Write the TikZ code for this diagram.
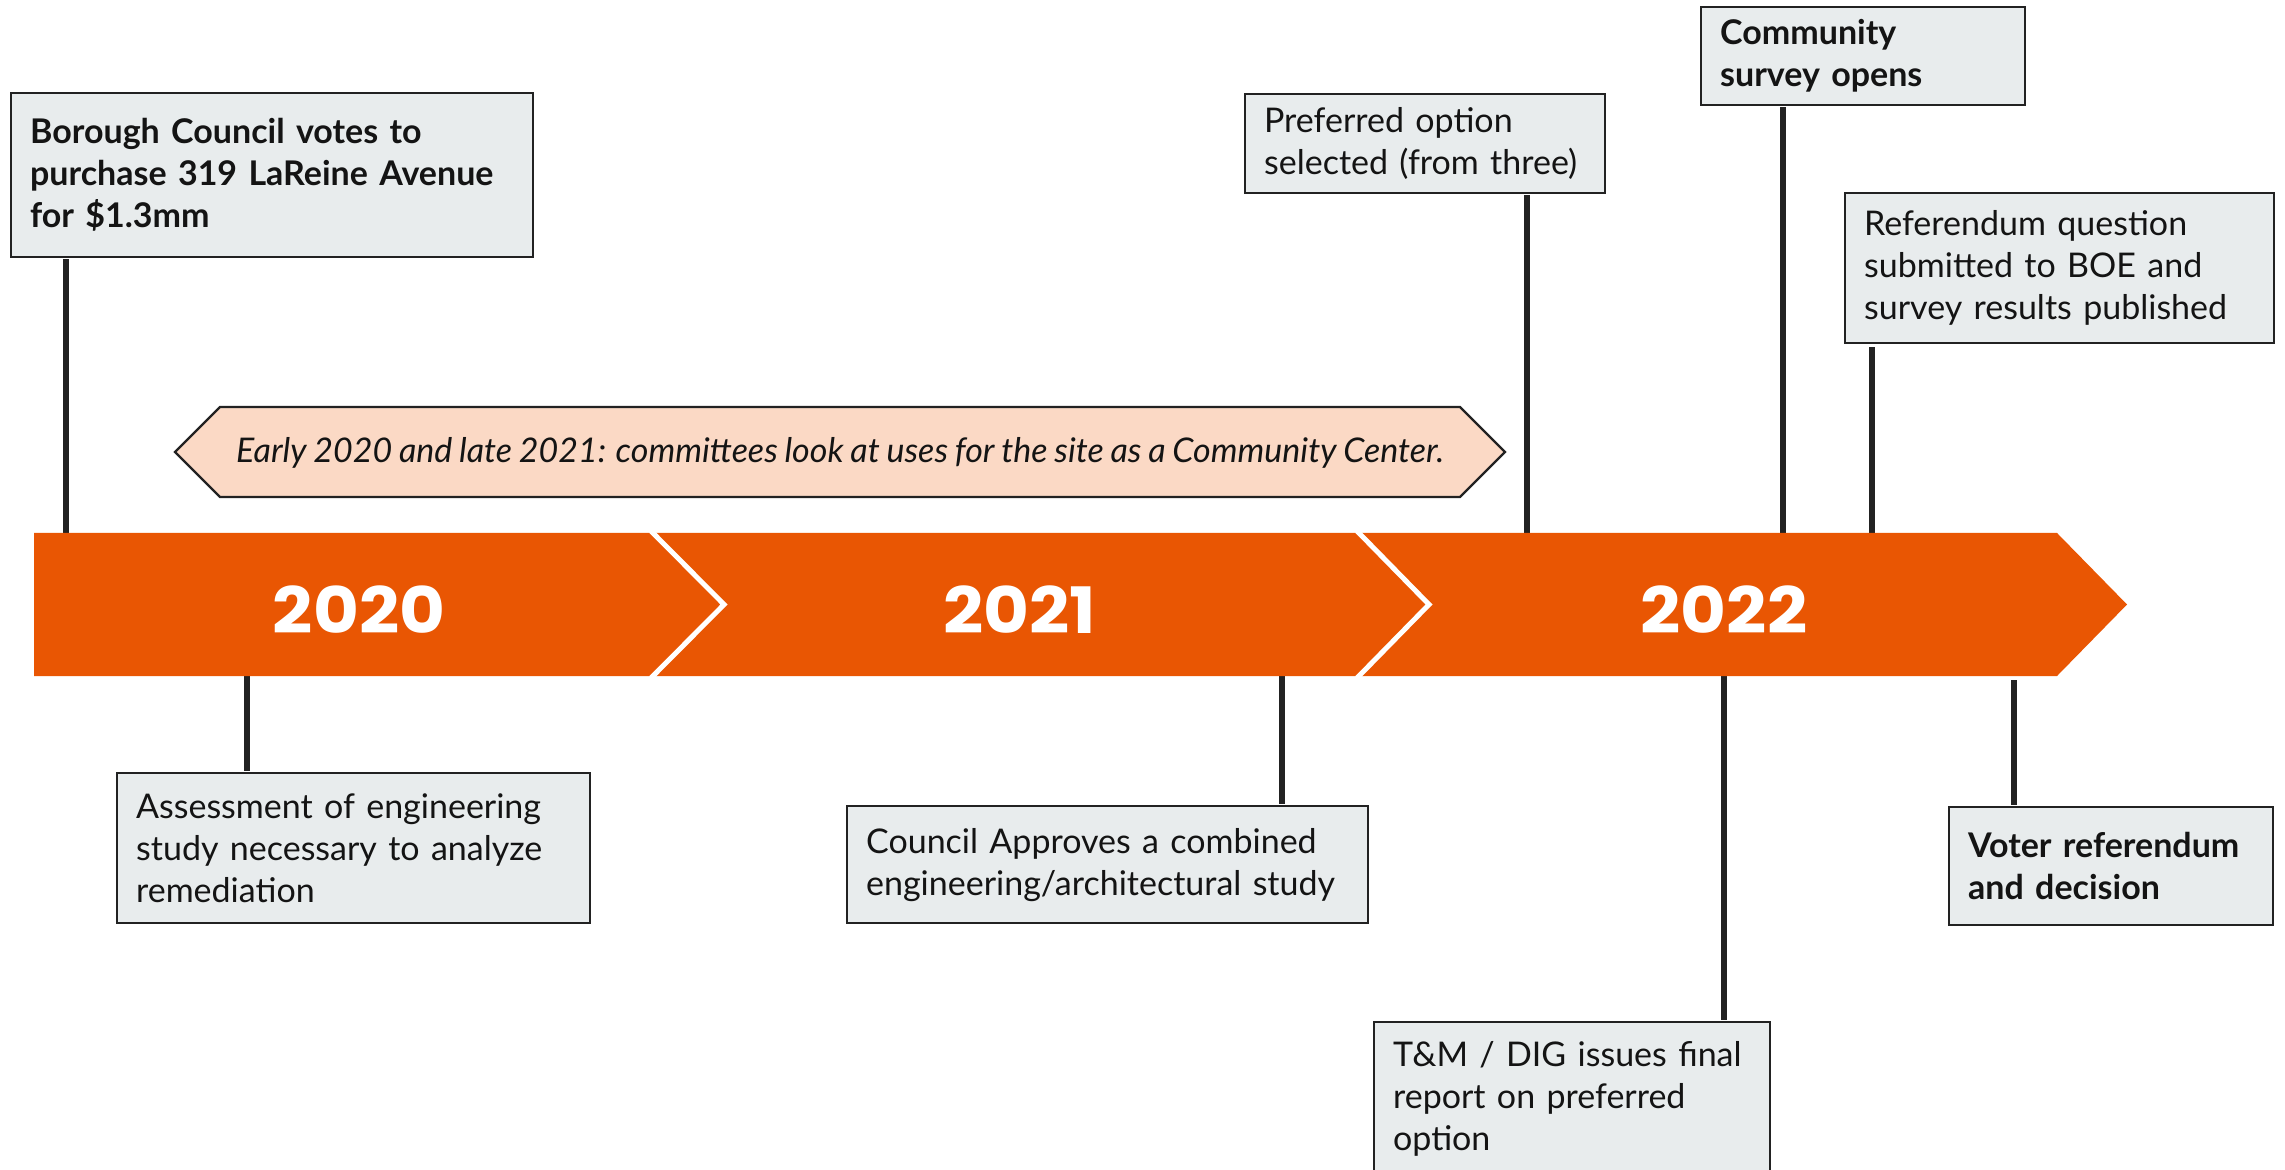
\documentclass[tikz,border=0pt]{standalone}
\usepackage{fontspec}
\setmainfont{Lato}[WordSpace=0.85]
\newfontfamily\yearfont{Poppins}[FakeStretch=1.1]
\definecolor{barorange}{RGB}{233,86,3}
\definecolor{peach}{RGB}{251,217,197}
\definecolor{boxfill}{RGB}{232,236,237}
\definecolor{linec}{RGB}{34,34,34}
\definecolor{textc}{RGB}{20,20,20}
\newcommand{\bxfont}{\fontsize{17}{21}\selectfont}
\tikzset{
  evbox/.style={draw=linec, line width=1.1pt, fill=boxfill, align=left, inner xsep=9.5pt, inner ysep=0pt,
    font=\bxfont, text=textc, anchor=north west},
  boldbox/.style={evbox, font=\bfseries\bxfont},
  conn/.style={draw=linec, line width=2.8pt},
  yearlabel/.style={text=white, font=\yearfont\bfseries\fontsize{32}{36}\selectfont, anchor=base, inner sep=0pt},
  chev/.style={draw=white, line width=2.5pt},
}
\begin{document}
\begin{tikzpicture}[x=0.5pt, y=-0.5pt]
\useasboundingbox (0,0) rectangle (2285,1170);
% attach points on the bar
\coordinate (a1) at (66,533);
\coordinate (a2) at (1527,533);
\coordinate (a3) at (1783,533);
\coordinate (a4) at (1872,533);
\coordinate (c1) at (247,676);
\coordinate (c2) at (1282,676);
\coordinate (c3) at (1724,676);
\coordinate (c4) at (2014,680);
% boxes
\node[boldbox, minimum width=261pt, minimum height=82pt, text width=242pt] (b1) at (10,92)
  {\mbox{Borough Council votes to}\\\mbox{purchase 319 LaReine Avenue}\\\mbox{for \$1.3mm}};
\node[evbox, minimum width=180pt, minimum height=49.5pt, text width=161pt] (pref) at (1244,93)
  {\mbox{Preferred option}\\\mbox{selected (from three)}};
\node[boldbox, minimum width=162pt, minimum height=49pt, text width=143pt] (comm) at (1700,6)
  {\mbox{Community}\\\mbox{survey opens}};
\node[evbox, minimum width=214.5pt, minimum height=75pt, text width=195.5pt] (refq) at (1844,192)
  {\mbox{Referendum question}\\\mbox{submitted to BOE and}\\\mbox{survey results published}};
\node[evbox, minimum width=236.5pt, minimum height=75pt, text width=217.5pt] (assess) at (116,772)
  {\mbox{Assessment of engineering}\\\mbox{study necessary to analyze}\\\mbox{remediation}};
\node[evbox, minimum width=260.5pt, minimum height=58.5pt, text width=241.5pt] (council) at (846,805)
  {\mbox{Council Approves a combined}\\\mbox{engineering/architectural study}};
\node[evbox, minimum width=198pt, minimum height=77pt, text width=179pt] (tm) at (1373,1021)
  {\mbox{T\&M / DIG issues final}\\\mbox{report on preferred}\\\mbox{option}};
\node[boldbox, minimum width=162pt, minimum height=59pt, text width=143pt] (voter) at (1948,806)
  {\mbox{Voter referendum}\\\mbox{and decision}};
% connectors (from each box edge to its point on the bar)
\draw[conn] ([yshift=-0.5pt]b1.south -| a1) -- (a1);
\draw[conn] ([yshift=-0.5pt]pref.south -| a2) -- (a2);
\draw[conn] ([yshift=-0.5pt]comm.south -| a3) -- (a3);
\draw[conn] ([yshift=-1.5pt]refq.south -| a4) -- (a4);
\draw[conn] (c1) -- ([yshift=0.5pt]c1 |- assess.north);
\draw[conn] (c2) -- ([yshift=0.5pt]c2 |- council.north);
\draw[conn] (c3) -- ([yshift=0.5pt]c3 |- tm.north);
\draw[conn] (c4) -- ([yshift=0.5pt]c4 |- voter.north);
% banner
\draw[fill=peach, draw=linec, line width=1.1pt] (175,452) -- (220,407) -- (1460,407) -- (1505,452) -- (1460,497) -- (220,497) -- cycle;
\node[font=\itshape\fontsize{17}{20}\selectfont, text=textc, inner sep=0pt] (banner) at (840,453)
  {Early 2020 and late 2021: committees look at uses for the site as a Community Center.};
% timeline bar
\fill[barorange] (34,533) -- (2057,533) -- (2127,604.5) -- (2057,676) -- (34,676) -- cycle;
\draw[chev] (651,531) -- (724,604.5) -- (651,678);
\draw[chev] (1357,531) -- (1429,604.5) -- (1357,678);
\node[yearlabel] (y20) at (359,633) {2020};
\node[yearlabel] (y21) at (1020,633) {2021};
\node[yearlabel] (y22) at (1724,633) {2022};
\end{tikzpicture}
\end{document}
